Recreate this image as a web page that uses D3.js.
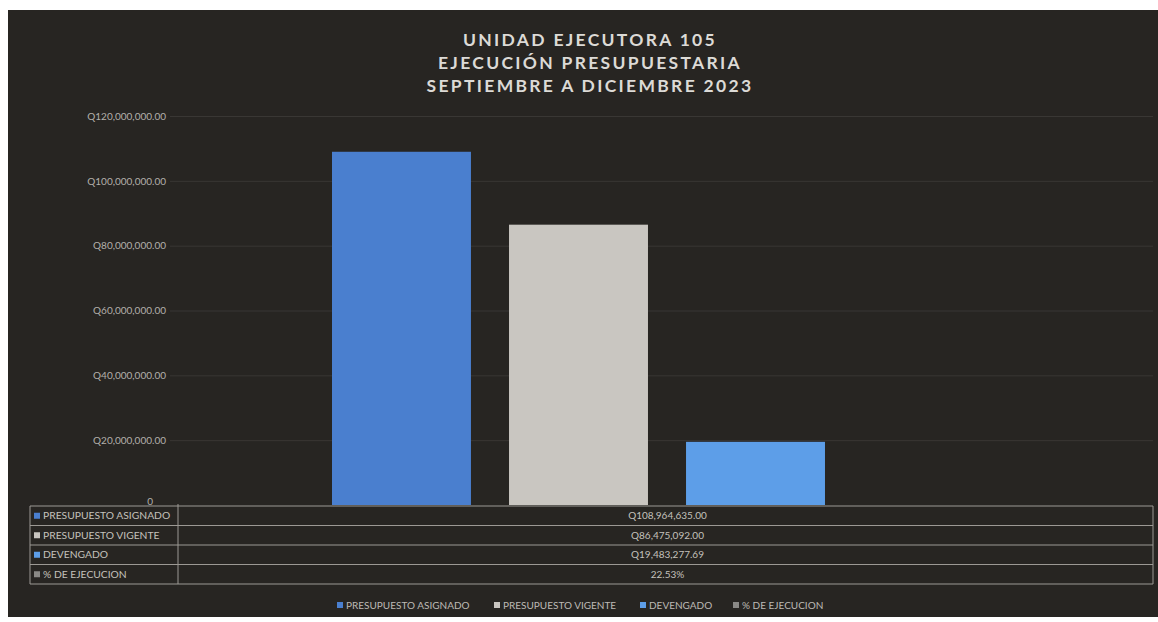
<!DOCTYPE html>
<html>
<head>
<meta charset="utf-8">
<script src="https://cdn.jsdelivr.net/npm/d3@7"></script>
<style>
  html, body { margin: 0; padding: 0; background: #ffffff; }
  svg { display: block; }
  text { font-family: Lato, "Open Sans", sans-serif; }
</style>
</head>
<body>
<svg id="chart" width="1158" height="622"></svg>
<script>
// ---- data ----
const titleLines = ["UNIDAD EJECUTORA 105", "EJECUCIÓN PRESUPUESTARIA", "SEPTIEMBRE A DICIEMBRE 2023"];
const seriesNames = ["PRESUPUESTO ASIGNADO", "PRESUPUESTO VIGENTE", "DEVENGADO", "% DE EJECUCION"];
const seriesValues = [108964635.00, 86475092.00, 19483277.69, 0.2253];
const tableLabels = ["Q108,964,635.00", "Q86,475,092.00", "Q19,483,277.69", "22.53%"];
const yTicks = [0, 20000000, 40000000, 60000000, 80000000, 100000000, 120000000];
const seriesColors = ["#4a7fcf", "#c9c6c1", "#5d9ee8", "#8a8986"];

// ---- layout ----
const svg = d3.select("#chart");
const plotLeft = 178, plotRight = 1153, plotTop = 116, plotBottom = 505;
const barsLeft = 332, barsRight = 1002;

svg.append("rect").attr("x", 8).attr("y", 10).attr("width", 1150).attr("height", 607)
  .attr("fill", "#272522");

// title
svg.append("g").selectAll("text").data(titleLines).join("text")
  .attr("x", 590).attr("y", (d, i) => 46 + i * 23)
  .attr("text-anchor", "middle")
  .attr("fill", "#dcdad6")
  .attr("font-size", 17.5).attr("font-weight", 700)
  .attr("letter-spacing", 2.3)
  .text(d => d);

// scales
const y = d3.scaleLinear().domain([0, 120000000]).range([plotBottom, plotTop]);
const x = d3.scaleBand().domain(seriesNames).range([barsLeft, barsRight]).paddingInner(0.215);

// gridlines
const grid = svg.append("g").attr("transform", `translate(170,0)`)
  .call(d3.axisLeft(y).tickValues(yTicks.filter(v => v > 0)).tickSize(-(plotRight - 170)).tickFormat(""));
grid.select(".domain").remove();
grid.selectAll("line").attr("stroke", "#393734").attr("stroke-width", 1);

// y axis labels
const fmt = v => v === 0 ? "0" : "Q" + d3.format(",.2f")(v);
const yAxis = svg.append("g").attr("transform", `translate(166,0)`)
  .call(d3.axisLeft(y).tickValues(yTicks).tickSize(0).tickPadding(0).tickFormat(fmt));
yAxis.select(".domain").remove();
yAxis.selectAll("text")
  .attr("fill", "#b3b0ab").attr("font-size", 10)
  .attr("dx", d => d === 0 ? -13 : 0)
  .attr("dy", d => d === 0 ? "-0.05em" : "0.32em");

// bars
svg.append("g").selectAll("rect").data(seriesNames).join("rect")
  .attr("x", d => x(d))
  .attr("width", x.bandwidth())
  .attr("y", (d, i) => y(seriesValues[i]))
  .attr("height", (d, i) => y(0) - y(seriesValues[i]))
  .attr("fill", (d, i) => seriesColors[i]);

// data table
const tTop = 506, rowH = 19.5, tLeft = 30;
const table = svg.append("g");
const lineColor = "#9c9994";
table.append("line").attr("x1", tLeft).attr("x2", tLeft).attr("y1", tTop).attr("y2", tTop + 4 * rowH)
  .attr("stroke", lineColor);
table.append("line").attr("x1", plotLeft).attr("x2", plotLeft).attr("y1", tTop - 2).attr("y2", tTop + 4 * rowH)
  .attr("stroke", lineColor);
table.append("line").attr("x1", plotRight).attr("x2", plotRight).attr("y1", tTop).attr("y2", tTop + 4 * rowH)
  .attr("stroke", lineColor);
table.selectAll("line.row").data(d3.range(5)).join("line").attr("class", "row")
  .attr("x1", tLeft).attr("x2", plotRight)
  .attr("y1", i => tTop + i * rowH).attr("y2", i => tTop + i * rowH)
  .attr("stroke", lineColor).attr("stroke-width", 1.2);
const rows = table.selectAll("g.r").data(seriesNames).join("g").attr("class", "r")
  .attr("transform", (d, i) => `translate(0,${tTop + i * rowH + rowH / 2})`);
rows.append("rect").attr("x", 34).attr("y", -3).attr("width", 6).attr("height", 6)
  .attr("fill", (d, i) => seriesColors[i]);
rows.append("text").attr("x", 43).attr("dy", "0.35em")
  .attr("fill", "#c4c1bc").attr("font-size", 10.3)
  .text(d => d);
rows.append("text").attr("x", (plotLeft + plotRight) / 2 + 2).attr("dy", "0.35em")
  .attr("text-anchor", "middle")
  .attr("fill", "#c4c1bc").attr("font-size", 10)
  .text((d, i) => tableLabels[i]);

// legend
const legendX = [337, 494, 640, 733];
const leg = svg.append("g").selectAll("g").data(seriesNames).join("g")
  .attr("transform", (d, i) => `translate(${legendX[i]},605)`);
leg.append("rect").attr("x", 0).attr("y", -3).attr("width", 6).attr("height", 6)
  .attr("fill", (d, i) => seriesColors[i]);
leg.append("text").attr("x", 9).attr("dy", "0.35em")
  .attr("fill", "#bdbab5").attr("font-size", 10)
  .text(d => d);
</script>
</body>
</html>
